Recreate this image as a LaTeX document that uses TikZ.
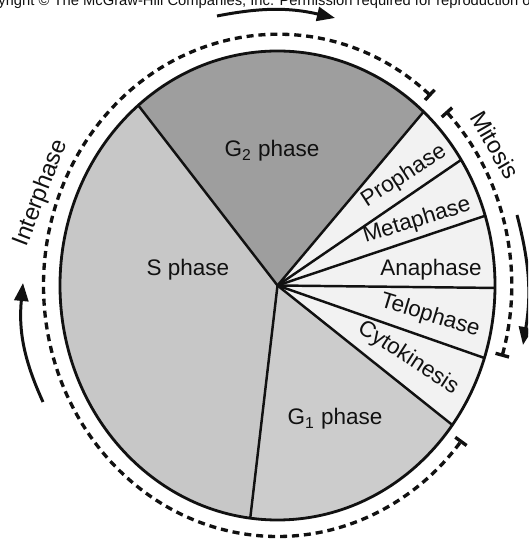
\documentclass[tikz,border=0pt]{standalone}
\usepackage{fontspec}
\setmainfont{Liberation Sans}
\usetikzlibrary{arrows.meta,positioning}
\definecolor{ink}{HTML}{111111}
\definecolor{gtwo}{gray}{0.62}
\definecolor{sgray}{gray}{0.78}
\definecolor{gone}{gray}{0.80}
\definecolor{mgray}{gray}{0.95}

\begin{document}
\begin{tikzpicture}[
  x=0.02cm,y=0.02cm,
  rim/.style={line width=1.6pt,draw=ink},
  spoke/.style={line width=1.4pt,draw=ink},
  lbl/.style={font=\fontsize{12.8}{15}\selectfont,inner sep=0pt,text=ink},
  outlbl/.style={font=\fontsize{13.5}{16}\selectfont,inner sep=0pt,text=ink},
  phase/.style={line width=1.9pt,draw=ink,dash pattern=on 4pt off 2.8pt,
    {Bar[width=2.8mm]}-{Bar[width=2.8mm]}},
  arr/.style={line width=1.7pt,draw=ink,-{Triangle[length=3.6mm,width=2.8mm]}}
]
\clip (0,0) rectangle (528,540);
\coordinate (ctr) at (277.5,254.5);

% slices
\foreach \from/\to/\shade in {47.8/129.8/gtwo,129.8/262.8/sgray,-97.2/-36.5/gone,-36.5/47.8/mgray}
  \fill[\shade] (ctr) -- ++(\from:217.5 and 234.5)
    arc[start angle=\from,end angle=\to,x radius=217.5,y radius=234.5] -- cycle;

% spokes
\foreach \ang [count=\i] in {129.8,47.8,32.4,17.3,-0.6,-18,-36.5,-97.2}
  \path (ctr) ++(\ang:217.5 and 234.5) coordinate (rim\i);
\foreach \i in {1,...,8}
  \draw[spoke] (ctr) -- (rim\i);
\draw[rim] (ctr) ellipse [x radius=217.5,y radius=234.5];

% labels
\node[lbl] (gtwolbl) at (272,389) {G\textsubscript{2} phase};
\node[lbl] (slbl) at (188,270) {S phase};
\node[lbl] (gonelbl) at (335,121) {G\textsubscript{1} phase};
\node[lbl,rotate=33] (prolbl) at (404,364) {Prophase};
\node[lbl,rotate=17] (metalbl) at (417,319) {Metaphase};
\node[lbl] (analbl) at (431,270) {Anaphase};
\node[lbl,rotate=-17] (telolbl) at (430,224) {Telophase};
\node[lbl,rotate=-33] (cytolbl) at (408,182) {Cytokinesis};
\node[outlbl,rotate=69] (interlbl) at (41,347) {Interphase};
\node[outlbl,rotate=-60] (mitolbl) at (495,395) {Mitosis};

% dashed phase arcs
\draw[phase] (ctr) ++(49:234 and 251)
  arc[start angle=49,end angle=322,x radius=234,y radius=251];
\draw[phase] (ctr) ++(44:234 and 251)
  arc[start angle=44,end angle=-16.5,x radius=234,y radius=251];

% direction arrows
\coordinate (topa) at (217,524);
\coordinate (topb) at (335,522);
\coordinate (righta) at (517,325);
\coordinate (rightb) at (523,195);
\coordinate (lefta) at (43,138);
\coordinate (leftb) at (23,257);
\draw[arr] (topa) to[bend left=12] (topb);
\draw[arr] (righta) to[bend left=12] (rightb);
\draw[arr] (lefta) to[bend left=15] (leftb);

\node[font=\fontsize{8.4}{10}\selectfont,anchor=base west,inner sep=0pt,text=ink]
  (credit) at (-29,534.5) {Copyright \textcopyright{} The McGraw-Hill Companies, Inc. Permission required for reproduction or display.};
\end{tikzpicture}
\end{document}
